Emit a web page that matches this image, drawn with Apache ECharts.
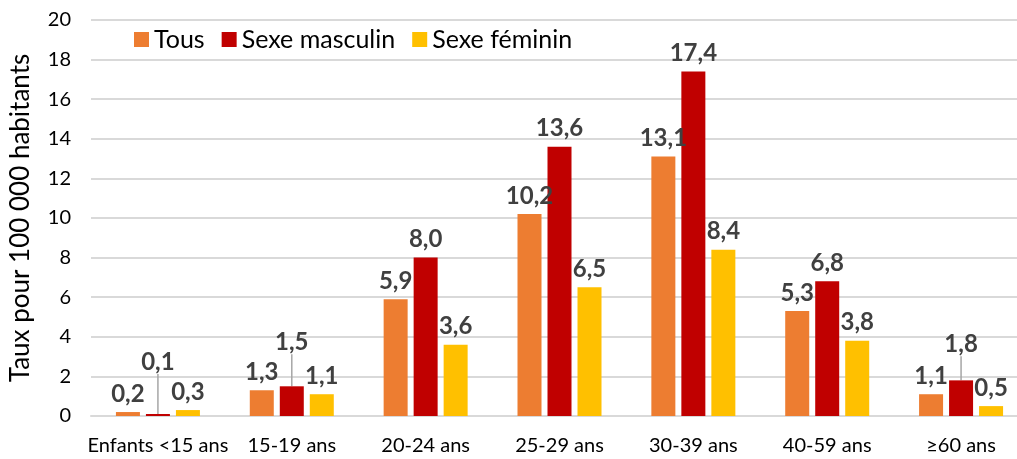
<!DOCTYPE html>
<html>
<head>
<meta charset="utf-8">
<script src="https://cdn.jsdelivr.net/npm/echarts@6/dist/echarts.min.js"></script>
<style>
html,body{margin:0;padding:0;background:#fff;}
#chart{width:1017px;height:459px;}
</style>
</head>
<body>
<div id="chart"></div>
<script>
var categories = ['Enfants <15 ans', '15-19 ans', '20-24 ans', '25-29 ans', '30-39 ans', '40-59 ans', '≥60 ans'];
var tous = [0.2, 1.3, 5.9, 10.2, 13.1, 5.3, 1.1];
var masculin = [0.1, 1.5, 8.0, 13.6, 17.4, 6.8, 1.8];
var feminin = [0.3, 1.1, 3.6, 6.5, 8.4, 3.8, 0.5];
// labels du sexe masculin remontés avec un trait
var raised = {0: -34, 1: -26, 6: -18};

var font = 'Lato';
var myChart = echarts.init(document.getElementById('chart'));

function fmt(p) {
	return p.value.toFixed(1).replace('.', ',');
}
var lbl = {
	show: true, position: 'top', distance: 6, formatter: fmt,
	fontFamily: font, fontSize: 24, fontWeight: 'bold', color: '#404040'
};

var mascData = masculin.map(function (v, i) {
	return {value: v, labelLine: {show: raised[i] !== undefined}};
});

var option = {
	backgroundColor: '#fff',
	animation: false,
	grid: {left: 91, top: 20, width: 937, bottom: 43, outerBoundsMode: 'none'},
	legend: {
		left: 129, top: 22, itemWidth: 15, itemHeight: 15, itemGap: 17,
		icon: 'rect',
		textStyle: {fontFamily: font, fontSize: 25, color: '#000'},
		data: ['Tous', 'Sexe masculin', 'Sexe féminin']
	},
	xAxis: {
		type: 'category',
		data: categories,
		axisTick: {show: false},
		axisLine: {lineStyle: {color: '#d9d9d9', width: 2}},
		axisLabel: {interval: 0, fontFamily: font, fontSize: 20, color: '#000', margin: 20}
	},
	yAxis: {
		type: 'value', min: 0, max: 20, interval: 2,
		name: 'Taux pour 100 000 habitants',
		nameLocation: 'middle', nameGap: 57,
		nameTextStyle: {fontFamily: font, fontSize: 26, color: '#000'},
		axisLabel: {fontFamily: font, fontSize: 20, color: '#000', margin: 20},
		splitLine: {lineStyle: {color: '#d9d9d9', width: 2}}
	},
	series: [
		{
			name: 'Tous', type: 'bar', data: tous, barWidth: 24, barGap: '25%',
			itemStyle: {color: '#ED7D31'}, label: lbl
		},
		{
			name: 'Sexe masculin', type: 'bar', data: mascData, barWidth: 24, barGap: '25%',
			itemStyle: {color: '#C00000'}, label: lbl,
			labelLayout: function (p) {
				if (raised[p.dataIndex] !== undefined) {
					return {dy: raised[p.dataIndex]};
				}
				return {};
			},
			labelLine: {lineStyle: {color: '#a6a6a6', width: 1.5}}
		},
		{
			name: 'Sexe féminin', type: 'bar', data: feminin, barWidth: 24, barGap: '25%',
			itemStyle: {color: '#FFC000'}, label: lbl
		}
	]
};

myChart.setOption(option);
</script>
</body>
</html>
